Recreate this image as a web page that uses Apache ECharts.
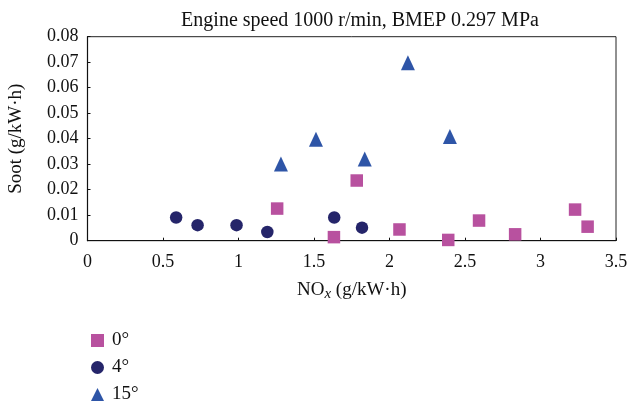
<!DOCTYPE html>
<html>
<head>
<meta charset="utf-8">
<script src="https://cdn.jsdelivr.net/npm/echarts@6/dist/echarts.min.js"></script>
<style>
  html, body { margin: 0; padding: 0; background: #fff; }
  #chart { width: 630px; height: 402px; }
</style>
</head>
<body>
<div id="chart"></div>
<script>
// NOx (g/kW·h) and soot (g/kW·h) for three injection timings
const nox0 = [1.256, 1.632, 1.783, 2.066, 2.389, 2.593, 2.832, 3.229, 3.312];
const soot0 = [0.0126, 0.0014, 0.0236, 0.0044, 0.0003, 0.0079, 0.0025, 0.0122, 0.0055];

const nox4 = [0.587, 0.729, 0.987, 1.191, 1.634, 1.818];
const soot4 = [0.0091, 0.0061, 0.0061, 0.0034, 0.0091, 0.0051];

const nox15 = [1.281, 1.513, 1.836, 2.122, 2.400];
const soot15 = [0.0301, 0.0398, 0.0320, 0.0698, 0.0409];

const seriesNames = ['0°', '4°', '15°'];
const titleText = 'Engine speed 1000 r/min, BMEP 0.297 MPa';

const FONT = 'Liberation Serif';
const pairs = (xs, ys) => xs.map((x, i) => [x, ys[i]]);

const chart = echarts.init(document.getElementById('chart'), null, { renderer: 'canvas' });

chart.setOption({
  animation: false,
  backgroundColor: '#fff',
  textStyle: { fontFamily: FONT, color: '#000' },
  title: {
    text: titleText,
    left: 355, top: 6, textAlign: 'center',
    textStyle: { fontFamily: FONT, fontSize: 20, fontWeight: 'normal', color: '#111' }
  },
  grid: {
    left: 87.5, right: 14, top: 36.7, bottom: 161.3,
    outerBoundsMode: 'none',
    show: true, borderColor: '#222', borderWidth: 1
  },
  xAxis: {
    type: 'value', min: 0, max: 3.5, interval: 0.5,
    name: '{n|NO}{s|x}{n| (g/kW·h)}',
    nameLocation: 'middle', nameGap: 37,
    nameTextStyle: {
      rich: {
        n: { fontFamily: FONT, fontSize: 19, color: '#111' },
        s: { fontFamily: FONT, fontSize: 15, fontStyle: 'italic', color: '#111', padding: [9, 0, 0, 0] }
      }
    },
    axisLine: { lineStyle: { color: '#111', width: 1.2 } },
    axisTick: { inside: true, length: 3, lineStyle: { color: '#111' } },
    axisLabel: { fontFamily: FONT, fontSize: 18, color: '#111', margin: 13 },
    splitLine: { show: false }
  },
  yAxis: {
    type: 'value', min: 0, max: 0.08, interval: 0.01,
    name: 'Soot (g/kW·h)',
    nameLocation: 'middle', nameGap: 62, nameRotate: 90,
    nameTextStyle: { fontFamily: FONT, fontSize: 19, color: '#111' },
    axisLine: { lineStyle: { color: '#111', width: 1.2 } },
    axisTick: { inside: true, length: 3, lineStyle: { color: '#111' } },
    axisLabel: { fontFamily: FONT, fontSize: 18, color: '#111', margin: 9 },
    splitLine: { show: false }
  },
  legend: {
    orient: 'vertical', left: 86, top: 326, height: 90,
    itemWidth: 13, itemHeight: 13, itemGap: 8,
    textStyle: { fontFamily: FONT, fontSize: 19, lineHeight: 18, color: '#111', padding: [0, 0, 0, 3] },
    data: seriesNames
  },
  series: [
    {
      name: seriesNames[0], type: 'scatter', symbol: 'rect', symbolSize: 12.5,
      itemStyle: { color: '#B8519F', opacity: 1 },
      data: pairs(nox0, soot0)
    },
    {
      name: seriesNames[1], type: 'scatter', symbol: 'circle', symbolSize: 12.5,
      itemStyle: { color: '#25256A', opacity: 1 },
      data: pairs(nox4, soot4)
    },
    {
      name: seriesNames[2], type: 'scatter', symbol: 'triangle', symbolSize: [14, 15],
      itemStyle: { color: '#2E55A7', opacity: 1 },
      data: pairs(nox15, soot15)
    }
  ]
});
</script>
</body>
</html>
